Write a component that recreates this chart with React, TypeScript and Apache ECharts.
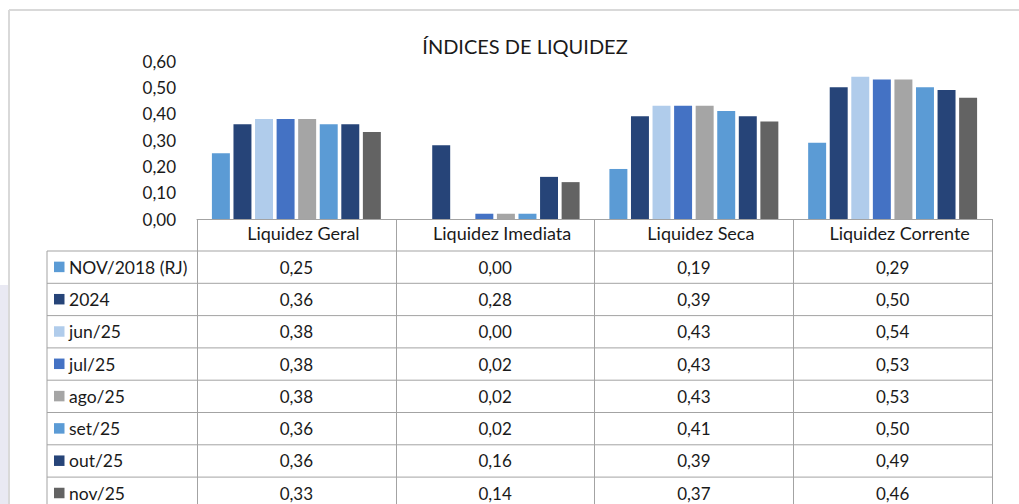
import React, { useEffect, useRef } from "react";
import * as echarts from "echarts";

const categories = ["Liquidez Geral", "Liquidez Imediata", "Liquidez Seca", "Liquidez Corrente"];
const seriesNames = ["NOV/2018 (RJ)", "2024", "jun/25", "jul/25", "ago/25", "set/25", "out/25", "nov/25"];
const nov2018 = [0.25, 0.0, 0.19, 0.29];
const y2024 = [0.36, 0.28, 0.39, 0.5];
const jun25 = [0.38, 0.0, 0.43, 0.54];
const jul25 = [0.38, 0.02, 0.43, 0.53];
const ago25 = [0.38, 0.02, 0.43, 0.53];
const set25 = [0.36, 0.02, 0.41, 0.5];
const out25 = [0.36, 0.16, 0.39, 0.49];
const nov25 = [0.33, 0.14, 0.37, 0.46];
const seriesValues = [nov2018, y2024, jun25, jul25, ago25, set25, out25, nov25];
const colors = ["#5B9BD5", "#264478", "#B0CCEB", "#4472C4", "#A5A5A5", "#5B9BD5", "#264478", "#636363"];
const titleText = "ÍNDICES DE LIQUIDEZ";

const FONT = "Lato, 'Open Sans', sans-serif";
const W = 1019;
const H = 504;
const GRID_LEFT = 197;
const GRID_RIGHT = 992;
const GRID_TOP = 61;
const AXIS_Y = 219;
const TABLE_LEFT = 47;
const HEADER_BOTTOM = 251;
const ROW_H = 32.3;
const LINE_COLOR = "#a3a3a3";

const fmt = (v: number) => v.toFixed(2).replace(".", ",");

export default function App() {
  const ref = useRef<HTMLDivElement>(null);
  useEffect(() => {
    if (!ref.current) return;
    const chart = echarts.init(ref.current, undefined, { renderer: "svg" });
    chart.setOption({
      animation: false,
      backgroundColor: "#ffffff",
      grid: {
        left: GRID_LEFT,
        right: W - GRID_RIGHT,
        top: GRID_TOP,
        bottom: H - AXIS_Y,
        containLabel: false,
        outerBoundsMode: "none",
      },
      xAxis: {
        type: "category",
        data: categories,
        axisLine: { show: true, lineStyle: { color: LINE_COLOR, width: 1 } },
        axisTick: {
          show: true,
          interval: 0,
          alignWithLabel: false,
          length: H - AXIS_Y + 10,
          lineStyle: { color: LINE_COLOR, width: 1 },
        },
        axisLabel: {
          interval: 0,
          margin: 14,
          verticalAlign: "middle",
          padding: [0, 0, 0, 14],
          fontFamily: FONT,
          fontSize: 18,
          color: "#1a1a1a",
        },
        splitLine: { show: false },
      },
      yAxis: {
        type: "value",
        min: 0,
        max: 0.6,
        interval: 0.1,
        axisLine: { show: false },
        axisTick: { show: false },
        splitLine: { show: false },
        axisLabel: {
          margin: 21,
          fontFamily: FONT,
          fontSize: 17,
          color: "#1a1a1a",
          formatter: (v: number) => fmt(v),
        },
      },
      series: seriesNames.map((name, i) => ({
        type: "bar",
        name,
        data: seriesValues[i],
        barGap: "20%",
        barCategoryGap: "15%",
        itemStyle: { color: colors[i] },
      })),
    });

    const graphics: any[] = [];
    graphics.push({ type: "rect", shape: { x: 0, y: 285, width: 9, height: H - 285 }, style: { fill: "#e9e9f3" }, silent: true });
    graphics.push({ type: "line", shape: { x1: 9, y1: 10, x2: W, y2: 10 }, style: { stroke: "#d9d9d9", lineWidth: 2 }, silent: true });
    graphics.push({ type: "line", shape: { x1: 9, y1: 10, x2: 9, y2: H }, style: { stroke: "#d9d9d9", lineWidth: 2 }, silent: true });
    graphics.push({
      type: "text",
      style: { text: titleText, x: 525, y: 46, align: "center", verticalAlign: "middle", fontFamily: FONT, fontSize: 20, fill: "#1a1a1a" },
    });
    const nRows = seriesNames.length;
    for (let r = 0; r <= nRows; r++) {
      const y = HEADER_BOTTOM + r * ROW_H;
      graphics.push({ type: "line", shape: { x1: TABLE_LEFT, y1: y, x2: GRID_RIGHT, y2: y }, style: { stroke: LINE_COLOR, lineWidth: 1 }, silent: true });
    }
    graphics.push({ type: "line", shape: { x1: TABLE_LEFT, y1: HEADER_BOTTOM, x2: TABLE_LEFT, y2: H }, style: { stroke: LINE_COLOR, lineWidth: 1 }, silent: true });
    const colX = categories.map((c) => chart.convertToPixel({ xAxisIndex: 0 }, c) as number);
    seriesNames.forEach((name, r) => {
      const cy = HEADER_BOTTOM + (r + 0.5) * ROW_H;
      graphics.push({ type: "rect", shape: { x: 54, y: cy - 5.5, width: 10.5, height: 10.5 }, style: { fill: colors[r] }, silent: true });
      graphics.push({
        type: "text",
        style: { text: name, x: 69, y: cy, align: "left", verticalAlign: "middle", fontFamily: FONT, fontSize: 17.5, fill: "#1a1a1a" },
      });
      seriesValues[r].forEach((v, c) => {
        graphics.push({
          type: "text",
          style: { text: fmt(v), x: colX[c], y: cy, align: "center", verticalAlign: "middle", fontFamily: FONT, fontSize: 17, fill: "#1a1a1a" },
        });
      });
    });
    chart.setOption({ graphic: graphics });
    return () => chart.dispose();
  }, []);
  return <div ref={ref} style={{ position: "fixed", left: 0, top: 0, width: W + "px", height: H + "px" }} />;
}
